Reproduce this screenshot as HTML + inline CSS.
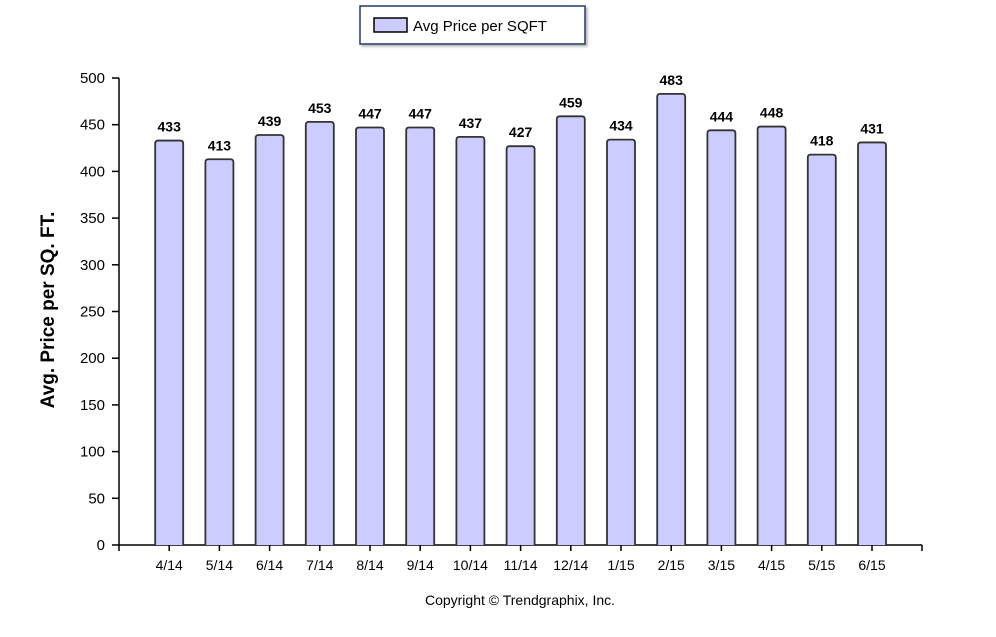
<!DOCTYPE html>
<html><head><meta charset="utf-8"><style>
body{margin:0;background:#fff;font-family:"Liberation Sans",Arial,sans-serif}
</style></head><body>
<svg width="996" height="632" xmlns="http://www.w3.org/2000/svg">
<defs><filter id="sh" x="-10%" y="-10%" width="130%" height="140%"><feDropShadow dx="2" dy="2" stdDeviation="1" flood-color="#888" flood-opacity="0.6"/></filter></defs>
<g>
<rect x="360" y="6" width="225" height="38" fill="#fff" stroke="#1f3a6a" stroke-width="1.5" filter="url(#sh)"/>
<rect x="374" y="18" width="33" height="14" fill="#ccccff" stroke="#000" stroke-width="1.5"/>
<text x="413" y="31" font-size="15" fill="#000">Avg Price per SQFT</text>
</g>
<g id="axes"></g>
<g id="bars"></g>
<text transform="translate(54,310) rotate(-90)" text-anchor="middle" font-size="19" font-weight="bold" fill="#000">Avg.  Price per SQ. FT.</text>
<text x="520" y="605" text-anchor="middle" font-size="14" fill="#000">Copyright © Trendgraphix, Inc.</text>
</svg>
<script>
const categories=["4/14","5/14","6/14","7/14","8/14","9/14","10/14","11/14","12/14","1/15","2/15","3/15","4/15","5/15","6/15"];
const values=[433,413,439,453,447,447,437,427,459,434,483,444,448,418,431];
const yTicks=[0,50,100,150,200,250,300,350,400,450,500];
const NS="http://www.w3.org/2000/svg";
const x0=119,x1=922,y0=545,yTop=78,yMax=500,step=50.2,bw=28;
const y=v=>y0-(v/yMax)*(y0-yTop);
const xc=i=>x0+(i+1)*step;
function mk(t,a,p){const e=document.createElementNS(NS,t);for(const k in a)e.setAttribute(k,a[k]);p.appendChild(e);return e;}
const ax=document.getElementById('axes'),bg=document.getElementById('bars');
const yl=mk('line',{x1:x0,y1:yTop,x2:x0,y2:y0,stroke:'#000','stroke-width':1.5},ax);


const xl=mk('line',{x1:x0,y1:y0,x2:x1,y2:y0,stroke:'#000','stroke-width':1.5},ax);


mk('line',{x1:x0,y1:y0,x2:x0,y2:y0+6,stroke:'#000','stroke-width':1.5},ax);
mk('line',{x1:x1,y1:y0,x2:x1,y2:y0+6,stroke:'#000','stroke-width':1.5},ax);
yTicks.forEach(v=>{
 mk('line',{x1:x0-7,y1:y(v),x2:x0,y2:y(v),stroke:'#000','stroke-width':1.5},ax);
 const t=mk('text',{x:x0-14,y:y(v)+5,'text-anchor':'end','font-size':15},ax);
 t.textContent=v;
 
 
});
categories.forEach((c,i)=>{
 const cx=xc(i),top=y(values[i]);
 mk('line',{x1:cx,y1:y0,x2:cx,y2:y0+6,stroke:'#000','stroke-width':1.5},ax);
 const t=mk('text',{x:cx,y:y0+25,'text-anchor':'middle','font-size':14},ax);
 t.textContent=c;
 
 
 const b=mk('path',{d:`M${cx-bw/2},${y0} L${cx-bw/2},${top+3} Q${cx-bw/2},${top} ${cx-bw/2+3},${top} L${cx+bw/2-3},${top} Q${cx+bw/2},${top} ${cx+bw/2},${top+3} L${cx+bw/2},${y0}`,fill:'#ccccff',stroke:'#333','stroke-width':1.8},bg);
 
 
 const l=mk('text',{x:cx,y:top-9,'text-anchor':'middle','font-size':14,'font-weight':'bold'},bg);
 l.textContent=values[i];
 
 
});
</script>
</body></html>
